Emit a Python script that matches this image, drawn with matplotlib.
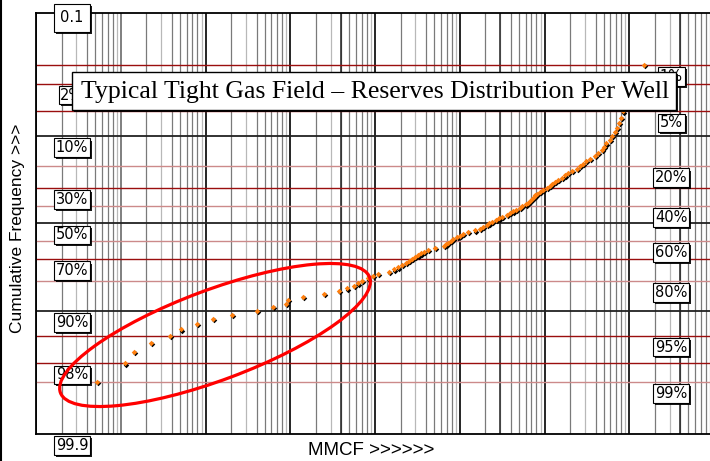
import math
import numpy as np
import matplotlib
matplotlib.use('Agg')
import matplotlib.pyplot as plt
import matplotlib.patches as patches
import matplotlib.transforms as mtransforms
import matplotlib.patheffects as pe
from matplotlib.lines import Line2D

# cumulative frequency (%) of each well, ranked from largest reserves down
cum_freq = [1, 2, 3, 4, 5, 6, 7, 8, 9, 10,
            11, 12, 13, 14, 15, 16, 17, 18, 19, 20,
            21, 22, 23, 24, 25, 26, 27, 28, 29, 30,
            31, 32, 33, 34, 35, 36, 37, 38, 39, 40,
            41, 42, 43, 44, 45, 46, 47, 48, 49, 50,
            51, 52, 53, 54, 55, 56, 57, 58, 59, 60,
            61, 62, 63, 64, 65, 66, 67, 68, 69, 70,
            71, 72, 73, 74, 75, 76, 77, 78, 79, 80,
            81, 82, 83, 84, 85, 86, 87, 88, 89, 90,
            91, 92, 93, 94, 95, 96, 97, 98, 99]

# reserves per well (MMCF)
reserves = [14900, 11400, 9930, 9160, 8440, 8000, 7570, 7170, 6790, 6250,
            5930, 5320, 5040, 4770, 4280, 3940, 3440, 3090, 2850, 2620,
            2420, 2110, 1890, 1750, 1610, 1440, 1330, 1220, 1160, 1070,
            959, 885, 816, 773, 752, 713, 675, 639, 605, 543,
            514, 461, 425, 392, 361, 315, 290, 268, 240, 221,
            210, 188, 173, 151, 125, 109, 101, 92.9, 83.2, 78.9,
            72.6, 68.9, 65.2, 51.1, 42.2, 37.8, 34.9, 32.1, 29.6, 27.4,
            25.2, 23.2, 20.8, 18.7, 16.7, 14.6, 10.8, 9.47, 8.26, 7.03,
            6.30, 5.65, 4.68, 3.76, 2.50, 1.41, 0.94, 0.891, 0.625, 0.406,
            0.206, 0.122, 0.0794, 0.0514, 0.0381, 0.0228, 0.0143, 0.0112, 0.00525]

left_labels = ['0.1', '2%', '10%', '30%', '50%', '70%', '90%', '98%', '99.9']
left_at = [0.1, 2, 10, 30, 50, 70, 90, 98, 99.9]
right_labels = ['1%', '5%', '20%', '40%', '60%', '80%', '95%', '99%']
right_at = [1, 5, 20, 40, 60, 80, 95, 99]

grid_black = [10, 50, 90]
grid_red = [1, 2, 5, 30, 70, 95, 98]
grid_pink = [20, 40, 60, 80, 99]

title = 'Typical Tight Gas Field \u2013 Reserves Distribution Per Well'

# probability scale (normal quantiles) for the y axis
_z = np.linspace(-6, 6, 6001)
_p = 50.0 * (1.0 + np.array([math.erf(v / math.sqrt(2)) for v in _z]))


def prob_fwd(p):
    return np.interp(p, _p, _z)


def prob_inv(z):
    return np.interp(z, _z, _p)


W, H = 710, 461
fig = plt.figure(figsize=(W / 100, H / 100), dpi=100)
ax = fig.add_axes([36 / W, 27 / H, 678 / W, 421 / H])
ax.set_xscale('log')
ax.set_yscale('function', functions=(prob_fwd, prob_inv))
ax.set_xlim(1e-3, 1e5)
ax.set_ylim(99.9, 0.1)
ax.set_xticks([])
ax.set_yticks([])
ax.minorticks_off()
for s in ['left', 'top', 'bottom']:
    ax.spines[s].set_linewidth(1.3)
ax.spines['right'].set_visible(False)

# vertical log grid
for dec in range(-3, 5):
    base = 10.0 ** dec
    ax.axvline(base, color='#6a6a6a' if dec == -2 else 'black', lw=1.2, zorder=1)
    for m in range(2, 10):
        c = '#b8b8b8' if m in (3, 9) else '#7a7a7a'
        ax.axvline(m * base, color=c, lw=0.9, zorder=1)
for v in [4, 300, 4e4]:
    ax.axvline(v, color='#222222', lw=1.1, zorder=1)

# horizontal probability grid
for p in grid_black:
    ax.axhline(p, color='#222222', lw=1.3, zorder=1)
for p in grid_red:
    ax.axhline(p, color='#9a0e0e', lw=1.0, zorder=1)
for p in grid_pink:
    ax.axhline(p, color='#cc8a8a', lw=1.0, zorder=1)

# points: black shadow then orange
shadow = mtransforms.offset_copy(ax.transData, fig=fig, x=1.2, y=-1.2, units='dots')
ax.plot(reserves, cum_freq, 'D', ms=2.8, color='black', mec='none',
        transform=shadow, zorder=3)
ax.plot(reserves, cum_freq, 'D', ms=2.8, color='#ff7f0e', mec='none', zorder=4)

# percentage labels
tr = mtransforms.blended_transform_factory(ax.transAxes, ax.transData)
shadow_fx = [pe.SimplePatchShadow(offset=(1.5, -1.5), shadow_rgbFace='black', alpha=0.9), pe.Normal()]


def put_label(txt, p, xf):
    if txt == '0.1':
        t = ax.annotate(txt, xy=(xf, p), xycoords=tr, xytext=(0, -5),
                        textcoords='offset pixels', ha='center', va='center',
                        fontsize=10.5, zorder=6,
                        bbox=dict(boxstyle='square,pad=0.45', fc='white', ec='black', lw=0.8))
    else:
        t = ax.annotate(txt, xy=(xf, p), xycoords=tr, xytext=(0, -4),
                        textcoords='offset pixels', ha='center', va='top',
                        fontsize=10.5, zorder=6,
                        bbox=dict(boxstyle='square,pad=0.12', fc='white', ec='black', lw=0.8))
    t.get_bbox_patch().set_path_effects(shadow_fx)


for txt, p in zip(left_labels, left_at):
    put_label(txt, p, 0.053)
for txt, p in zip(right_labels, right_at):
    put_label(txt, p, 0.937)

# title box (sits over the 1% and 2% labels, as in the original)
box = patches.Rectangle((72 / W, 1 - 110 / H), 604 / W, 38 / H, transform=fig.transFigure,
                        fc='white', ec='black', lw=1.0, zorder=5)
box.set_path_effects(shadow_fx)
fig.add_artist(box)
fig.text(375 / W, 1 - 92 / H, title, ha='center', va='center', fontsize=18.5,
         family='Liberation Serif', zorder=6)

# highlight ellipse round the low-end wells
ell = patches.Ellipse((2.15, (H - 335) / 100), 3.30, 0.90, angle=20.5,
                      transform=fig.dpi_scale_trans, fill=False, ec='#ff0000', lw=2.3, zorder=7)
fig.add_artist(ell)

fig.text(371 / W, 1 - 450 / H, 'MMCF >>>>>>', ha='center', va='center', fontsize=13.5,
         family='Liberation Sans')
fig.text(18 / W, 1 - 228 / H, 'Cumulative Frequency >>>', ha='center', va='center',
         fontsize=12.5, rotation=90, family='Liberation Sans')

fig.add_artist(Line2D([1.5 / W, 1.5 / W], [0, 1], transform=fig.transFigure, color='black', lw=1.5))

fig.savefig('out.png', dpi=100)
